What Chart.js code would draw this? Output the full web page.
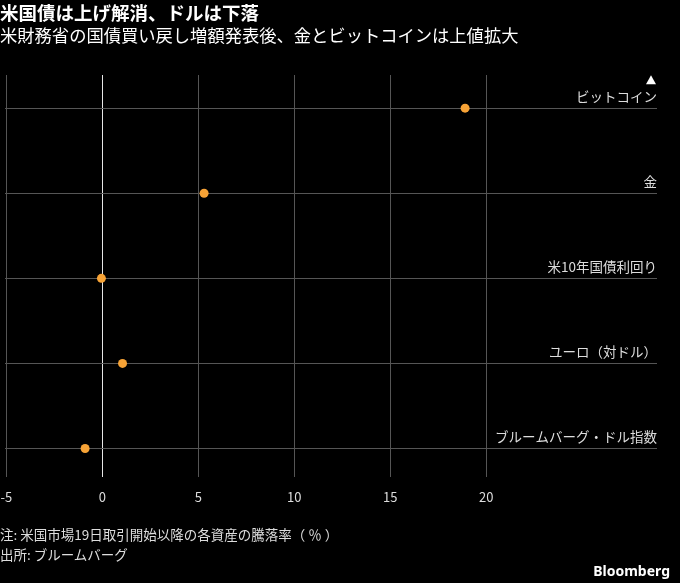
<!DOCTYPE html>
<html>
<head>
<meta charset="utf-8">
<script src="https://cdn.jsdelivr.net/npm/chart.js@4"></script>
<style>
    body { margin: 0; background: #000; font-family: "Noto Sans CJK JP", "Noto Sans", sans-serif; }
    #wrap { position: relative; width: 680px; height: 583px; overflow: hidden; }
    #chart { position: absolute; left: 0; top: 0; }
    .title { position: absolute; left: 0; top: 0; color: #fff; font-size: 18.5px; font-weight: bold; line-height: 24px; }
    .subtitle { position: absolute; left: 0; top: 23px; color: #fff; font-size: 17.3px; line-height: 24px; }
    .note { position: absolute; left: 0; color: #ddd; font-size: 13.5px; line-height: 18px; }
    .logo { position: absolute; right: 10px; bottom: 3px; color: #fff; font-size: 14px; font-weight: bold; font-family: "Noto Sans", sans-serif; }
</style>
</head>
<body>
<div id="wrap">
    <canvas id="chart" width="680" height="583"></canvas>
    <div class="title">米国債は上げ解消、ドルは下落</div>
    <div class="subtitle">米財務省の国債買い戻し増額発表後、金とビットコインは上値拡大</div>
    <div class="note" style="top:525px">注: 米国市場19日取引開始以降の各資産の騰落率（ ％ ）</div>
    <div class="note" style="top:545px">出所: ブルームバーグ</div>
    <div class="logo">Bloomberg</div>
</div>
<script>
// データ
const categories = ['ビットコイン', '金', '米10年国債利回り', 'ユーロ（対ドル）', 'ブルームバーグ・ドル指数'];
const changes = [18.9, 5.3, -0.05, 1.05, -0.9];
const xTicks = [-5, 0, 5, 10, 15, 20];

// カテゴリ名を線の上に右寄せで描く
const labelPlugin = {
    id: 'catLabels',
    afterDatasetsDraw(chart) {
        const ctx = chart.ctx;
        const yScale = chart.scales.y;
        const right = chart.chartArea.right;
        ctx.save();
        ctx.fillStyle = '#ddd';
        ctx.font = '13.5px "Noto Sans CJK JP"';
        ctx.textAlign = 'right';
        ctx.textBaseline = 'alphabetic';
        categories.forEach((name, i) => {
            ctx.fillText(name, right, yScale.getPixelForValue(i) - 6);
        });
        // 上の▲
        ctx.fillStyle = '#fff';
        ctx.beginPath();
        const ty = yScale.getPixelForValue(0) - 28;
        ctx.moveTo(right - 1, ty + 4);
        ctx.lineTo(right - 11, ty + 4);
        ctx.lineTo(right - 6, ty - 5);
        ctx.closePath();
        ctx.fill();
        ctx.restore();
    }
};

new Chart(document.getElementById('chart'), {
    type: 'scatter',
    data: {
        datasets: [{
            data: changes.map((v, i) => ({ x: v, y: i })),
            backgroundColor: '#f7a336',
            borderWidth: 0,
            pointRadius: 4.5
        }]
    },
    options: {
        responsive: false,
        animation: false,
        layout: { padding: { left: 0, right: 23, top: 75, bottom: 66 } },
        plugins: { legend: { display: false }, tooltip: { enabled: false } },
        scales: {
            x: {
                type: 'linear',
                min: -5.1,
                max: 28.9,
                afterBuildTicks: s => { s.ticks = xTicks.map(v => ({ value: v })); },
                afterFit: s => {
                    // 先頭ラベルのはみ出し用の余白を消す
                    s.paddingLeft = 0;
                    s.paddingRight = 0;
                    if (s._margins) { s._margins.left = 0; s._margins.right = 0; }
                },
                grid: {
                    color: ctx => ctx.tick && ctx.tick.value === 0 ? '#e6e6e6' : '#555',
                    lineWidth: 1,
                    drawTicks: false
                },
                border: { display: false },
                ticks: {
                    color: '#ddd',
                    font: { size: 13, family: '"Noto Sans CJK JP"' },
                    padding: 12,
                    maxRotation: 0
                }
            },
            y: {
                type: 'linear',
                reverse: true,
                min: -0.39,
                max: 4.34,
                afterBuildTicks: s => { s.ticks = categories.map((c, i) => ({ value: i })); },
                afterFit: s => { s.width = 0; },
                grid: { color: '#555', lineWidth: 1, drawTicks: false },
                border: { display: false },
                ticks: { display: false }
            }
        }
    },
    plugins: [labelPlugin]
});
</script>
</body>
</html>
